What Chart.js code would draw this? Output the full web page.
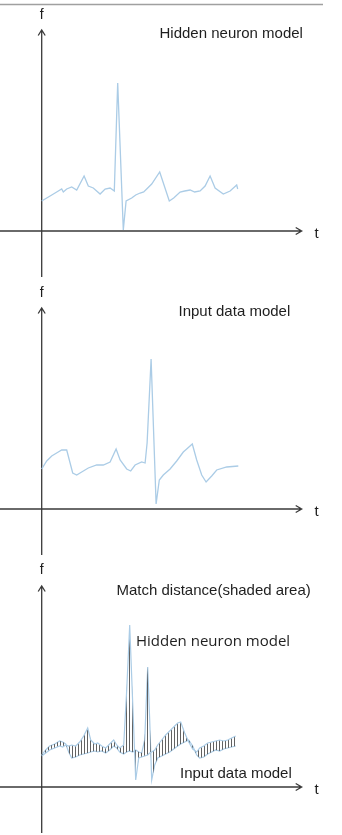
<!DOCTYPE html>
<html lang="en">
<head>
    <meta charset="UTF-8">
    <title>Match distance</title>
    <script src="https://cdnjs.cloudflare.com/ajax/libs/Chart.js/4.4.0/chart.umd.min.js"></script>
    <style>
        html, body { margin: 0; padding: 0; background: #fff; }
        .panel { width: 342px; height: 278px; }
        canvas { display: block; }
    </style>
</head>
<body>
    <div class="panel"><canvas id="hiddenChart" width="342" height="278"></canvas></div>
    <div class="panel"><canvas id="inputChart" width="342" height="278"></canvas></div>
    <div class="panel"><canvas id="matchChart" width="342" height="278"></canvas></div>

    <script>
        // Hidden neuron model (panel 1)
        const hiddenT = [0, 4.2, 7.5, 10, 10.8, 12.5, 15, 17.5, 21.2, 23.3, 25.8, 29.2, 31.7, 34.2, 36.3, 38, 40.8,
            42.2, 45, 47, 49.2, 51, 52.5, 55, 59, 63.8, 66, 69.2, 71.5, 74.2, 76.5, 79.2, 81.7, 84.2, 86.7, 90.8, 94.2, 97.5, 98];
        const hiddenF = [3.0, 3.5, 3.9, 4.2, 3.9, 4.2, 4.4, 4.1, 5.5, 4.5, 4.3, 3.7, 4.2, 4.3, 4.0, 14.8, 0.1,
            3.0, 3.3, 3.6, 3.8, 3.9, 4.2, 4.7, 5.9, 3.0, 3.3, 3.9, 4.0, 4.1, 3.9, 4.0, 4.5, 5.5, 4.3, 3.7, 4.0, 4.6, 4.2];

        // Input data model (panel 2)
        const inputT = [0, 2.5, 5, 8.3, 10, 12.5, 14.2, 15.5, 17.5, 20, 23.3, 27.5, 30.8, 34.2, 37.2, 39.2, 42.5, 44.5,
            46.7, 50, 51.7, 52.7, 54.7, 57.2, 58.8, 60.8, 64.2, 67.5, 70.8, 72.5, 75.3, 77.5, 80, 82.2, 85, 87.5, 92.5, 98.3];
        const inputF = [4.0, 4.8, 5.3, 5.7, 5.9, 5.9, 4.6, 3.6, 3.4, 3.7, 4.1, 4.4, 4.4, 4.7, 6.0, 4.9, 4.0, 3.8,
            4.4, 4.7, 4.6, 6.6, 15.0, 0.5, 2.9, 3.4, 4.0, 4.8, 5.7, 6.0, 6.5, 4.9, 3.4, 2.7, 3.3, 3.9, 4.2, 4.3];

        // Overlay (panel 3): both models on one time grid
        const matchT = [0, 2, 4, 6.5, 9, 10.5, 12, 13.5, 15, 17, 19, 21, 23, 24.5, 26.5, 28, 30, 32, 34, 36,
            37.5, 39, 41, 42.5, 44, 45.5, 47, 48.5, 50, 51.5, 53, 54, 55, 56.5, 58, 60, 62, 64, 66, 68,
            69.5, 71.5, 73.5, 75.5, 77.5, 79, 81, 83, 85, 87, 89, 91, 93, 95, 97];
        const matchHiddenF = [3.1, 3.4, 3.7, 3.9, 4.1, 4.0, 4.2, 4.1, 4.2, 4.1, 4.5, 5.1, 5.9, 4.7, 4.3, 4.4, 4.1, 3.9, 4.3, 4.7,
            4.2, 3.9, 4.2, 9.7, 16.2, 8.4, 0.7, 2.9, 3.0, 3.1, 3.2, 3.4, 3.5, 3.7, 4.2, 4.7, 5.2, 5.6, 6.0, 6.4,
            6.5, 5.4, 4.5, 3.8, 3.5, 3.9, 4.1, 4.4, 4.5, 4.6, 4.7, 4.6, 4.7, 4.9, 5.1];
        const matchInputF = [3.2, 3.7, 4.1, 4.3, 4.6, 4.5, 4.3, 3.5, 2.9, 3.0, 3.2, 3.3, 3.4, 3.5, 3.6, 3.5, 3.6, 3.4, 3.7, 4.1,
            3.9, 3.5, 3.3, 3.5, 3.6, 3.5, 3.7, 3.5, 3.4, 4.7, 12.0, 6.7, 0.7, 2.2, 2.9, 3.1, 3.3, 3.5, 3.8, 4.1,
            4.3, 4.5, 4.7, 4.1, 3.2, 2.9, 3.0, 3.3, 3.5, 3.7, 3.6, 3.8, 3.9, 4.0, 4.1];

        const T_MIN = -20.85, T_MAX = 150.15, T_ARROW = 130;
        const F_MIN = -4.7, F_MAX = 23.1, F_ARROW = 20.1;

        const curveColor = '#abcce6';
        const axisColor = '#3a3a3a';
        const sans = '"Liberation Sans", Arial, sans-serif';

        function toPoints(ts, fs) {
            return ts.map((t, i) => ({ x: t, y: fs[i] }));
        }

        // hatch pattern for the shaded area
        const hatchCanvas = document.createElement('canvas');
        hatchCanvas.width = 3;
        hatchCanvas.height = 4;
        const hctx = hatchCanvas.getContext('2d');
        hctx.fillStyle = 'rgba(70,70,70,0.85)';
        hctx.fillRect(0, 0, 1, 4);
        const hatch = hctx.createPattern(hatchCanvas, 'repeat');

        // arrowed axes, labels and notes
        const sketchAxes = {
            id: 'sketchAxes',
            beforeDatasetsDraw(chart, args, opts) {
                const { ctx, scales: { x, y } } = chart;
                const x0 = x.getPixelForValue(0);
                const y0 = y.getPixelForValue(0);
                const tipX = x.getPixelForValue(T_ARROW);
                const tipY = y.getPixelForValue(F_ARROW);
                ctx.save();
                if (opts.topRule) {
                    ctx.strokeStyle = '#a0a0a0';
                    ctx.lineWidth = 1.6;
                    ctx.beginPath();
                    ctx.moveTo(0, 4.5);
                    ctx.lineTo(323, 4.5);
                    ctx.stroke();
                }
                ctx.strokeStyle = axisColor;
                ctx.lineWidth = 1.3;
                ctx.beginPath();
                ctx.moveTo(x.left, y0);
                ctx.lineTo(tipX, y0);
                ctx.moveTo(tipX - 6, y0 - 3.5);
                ctx.lineTo(tipX, y0);
                ctx.lineTo(tipX - 6, y0 + 3.5);
                ctx.moveTo(x0, y.bottom - 1);
                ctx.lineTo(x0, tipY);
                ctx.moveTo(x0 - 3.5, tipY + 5.5);
                ctx.lineTo(x0, tipY);
                ctx.lineTo(x0 + 3.5, tipY + 5.5);
                ctx.stroke();

                ctx.fillStyle = '#1e1e1e';
                ctx.textBaseline = 'middle';
                ctx.textAlign = 'center';
                ctx.font = '14px ' + sans;
                ctx.fillText('f', x0, opts.fY || 15);
                ctx.font = '15px ' + sans;
                ctx.fillText('t', tipX + 15, y0 + 2.5);

                ctx.textAlign = 'left';
                (opts.notes || []).forEach(n => {
                    ctx.font = n.font || ('15px ' + sans);
                    ctx.fillText(n.text, n.x, n.y);
                });
                ctx.restore();
            }
        };

        function makeChart(id, datasets, axesOpts) {
            return new Chart(document.getElementById(id), {
                type: 'line',
                data: { datasets: datasets },
                options: {
                    responsive: false,
                    animation: false,
                    layout: { padding: 0 },
                    elements: { point: { radius: 0 }, line: { tension: 0 } },
                    scales: {
                        x: { type: 'linear', min: T_MIN, max: T_MAX, display: false },
                        y: { type: 'linear', min: F_MIN, max: F_MAX, display: false }
                    },
                    plugins: {
                        legend: { display: false },
                        tooltip: { enabled: false },
                        sketchAxes: axesOpts
                    }
                },
                plugins: [sketchAxes]
            });
        }

        makeChart('hiddenChart', [{
            label: 'Hidden neuron model',
            data: toPoints(hiddenT, hiddenF),
            borderColor: curveColor,
            borderWidth: 1.3,
            fill: false
        }], {
            topRule: true,
            fY: 15,
            notes: [{ text: 'Hidden neuron model', x: 159.5, y: 33.5 }]
        });

        makeChart('inputChart', [{
            label: 'Input data model',
            data: toPoints(inputT, inputF),
            borderColor: curveColor,
            borderWidth: 1.3,
            fill: false
        }], {
            fY: 15,
            notes: [{ text: 'Input data model', x: 178.5, y: 33.5 }]
        });

        makeChart('matchChart', [{
            label: 'Hidden neuron model',
            data: toPoints(matchT, matchHiddenF),
            borderColor: curveColor,
            borderWidth: 1.2,
            backgroundColor: hatch,
            fill: '+1'
        }, {
            label: 'Input data model',
            data: toPoints(matchT, matchInputF),
            borderColor: curveColor,
            borderWidth: 1.2,
            fill: false
        }], {
            fY: 14,
            notes: [
                { text: 'Match distance(shaded area)', x: 116.5, y: 34.5 },
                { text: 'Hidden neuron model', x: 136, y: 85.5, font: '15px "Open Sans", sans-serif' },
                { text: 'Input data model', x: 180, y: 218 }
            ]
        });
    </script>
</body>
</html>
